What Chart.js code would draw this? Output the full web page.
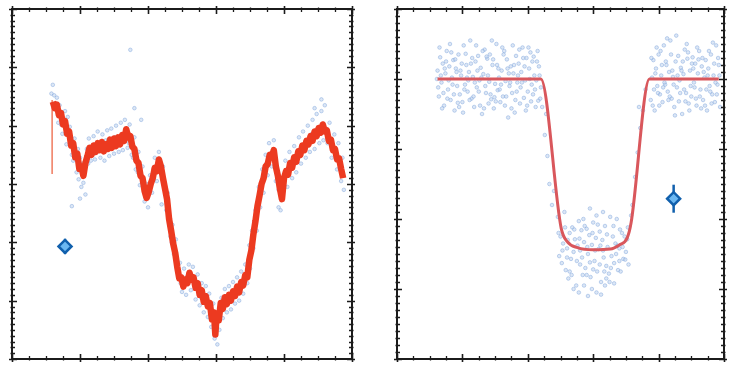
<!DOCTYPE html>
<html>
<head>
<meta charset="utf-8">
<script src="https://cdn.jsdelivr.net/npm/chart.js@4.4.1/dist/chart.umd.min.js"></script>
<style>
  body { margin: 0; background: #fff; width: 733px; height: 368px; position: relative; overflow: hidden; }
  canvas { position: absolute; top: 0; }
  #left { left: 0; }
  #right { left: 380px; }
</style>
</head>
<body>
<canvas id="left" width="368" height="368"></canvas>
<canvas id="right" width="353" height="368"></canvas>
<script>
// ---- left panel: noisy light curve ----
const leftXTicks = [0, 1, 2, 3, 4, 5];
const leftYTicks = [0, 1, 2, 3, 4, 5, 6];

const leftSpike = [[0.59, 3.17], [0.59, 4.44]];

const leftCurve = [
  [0.60,4.41],[0.63,4.30],[0.66,4.36],[0.69,4.18],[0.72,4.22],[0.75,4.02],[0.78,4.08],[0.81,3.86],
  [0.84,3.90],[0.87,3.66],[0.90,3.70],[0.93,3.46],[0.96,3.52],[0.99,3.26],[1.02,3.30],[1.05,3.14],
  [1.08,3.36],[1.11,3.48],[1.14,3.62],[1.17,3.50],[1.20,3.66],[1.23,3.55],[1.26,3.70],[1.29,3.58],
  [1.32,3.72],[1.35,3.56],[1.38,3.68],[1.41,3.60],[1.44,3.76],[1.47,3.62],[1.50,3.78],[1.53,3.65],
  [1.56,3.80],[1.59,3.68],[1.62,3.84],[1.65,3.74],[1.68,3.94],[1.71,3.80],[1.74,3.82],[1.77,3.64],
  [1.80,3.60],[1.83,3.40],[1.86,3.36],[1.89,3.14],[1.92,3.10],[1.95,2.88],[1.98,2.76],[2.01,2.86],
  [2.04,3.00],[2.07,3.10],[2.10,3.28],[2.13,3.22],[2.16,3.42],[2.19,3.30],[2.22,3.10],[2.25,2.92],
  [2.28,2.74],[2.31,2.40],[2.34,2.20],[2.37,1.98],[2.40,1.82],[2.43,1.58],[2.46,1.38],[2.49,1.40],
  [2.52,1.24],[2.55,1.36],[2.58,1.30],[2.61,1.48],[2.64,1.36],[2.67,1.40],[2.70,1.22],[2.73,1.30],
  [2.76,1.10],[2.79,1.18],[2.82,0.98],[2.85,1.08],[2.88,0.90],[2.91,0.96],[2.94,0.68],[2.97,0.80],
  [2.99,0.42],[3.01,0.78],[3.04,0.66],[3.07,0.96],[3.10,0.86],[3.13,1.06],[3.16,0.94],[3.19,1.10],
  [3.22,1.00],[3.25,1.16],[3.28,1.08],[3.31,1.24],[3.34,1.14],[3.37,1.32],[3.40,1.26],[3.43,1.44],
  [3.46,1.40],[3.49,1.70],[3.52,1.86],[3.55,2.14],[3.58,2.36],[3.61,2.62],[3.64,2.80],[3.67,3.00],
  [3.70,3.10],[3.73,3.30],[3.76,3.34],[3.79,3.50],[3.82,3.46],[3.85,3.58],[3.88,3.30],[3.91,3.14],
  [3.94,2.92],[3.97,2.74],[4.00,3.10],[4.03,3.22],[4.06,3.16],[4.09,3.36],[4.12,3.28],[4.15,3.46],
  [4.18,3.38],[4.21,3.56],[4.24,3.50],[4.27,3.66],[4.30,3.58],[4.33,3.74],[4.36,3.68],[4.39,3.82],
  [4.42,3.74],[4.45,3.90],[4.48,3.82],[4.51,3.96],[4.54,3.88],[4.57,4.02],[4.60,3.90],[4.63,3.92],
  [4.66,3.74],[4.69,3.76],[4.72,3.58],[4.75,3.60],[4.78,3.42],[4.81,3.44],[4.84,3.26],[4.87,3.10]
];

const leftDots = [
  [0.58,4.55],[0.60,4.70],[0.62,4.52],[0.64,4.38],[0.70,4.35],[0.68,4.05],[0.74,3.86],[0.78,4.25],
  [0.80,3.68],[0.85,3.98],[0.88,3.50],[0.92,3.78],[0.95,3.20],[0.98,3.08],[1.00,3.45],[1.02,2.95],
  [1.05,3.02],[1.08,2.82],[1.10,3.60],[1.13,3.78],[1.16,3.40],[1.20,3.82],[1.22,3.42],[1.26,3.90],
  [1.30,3.45],[1.33,3.85],[1.36,3.40],[1.40,3.92],[1.43,3.48],[1.46,3.95],[1.50,3.52],[1.53,4.00],
  [1.57,3.55],[1.60,4.05],[1.63,3.58],[1.66,4.10],[1.70,3.62],[1.73,4.02],[1.76,3.50],[1.80,3.80],
  [1.82,3.25],[1.86,3.55],[1.88,2.98],[1.92,3.30],[1.95,2.70],[1.98,3.00],[2.00,2.60],[2.03,3.15],
  [2.06,2.85],[2.10,3.45],[2.13,3.05],[2.16,3.55],[2.20,3.20],[2.24,2.95],[2.27,2.55],[2.30,2.62],
  [2.33,2.10],[2.36,2.30],[2.38,1.80],[2.41,2.05],[2.44,1.50],[2.47,1.65],[2.50,1.15],[2.53,1.55],
  [2.56,1.10],[2.60,1.62],[2.63,1.18],[2.66,1.58],[2.70,1.02],[2.73,1.45],[2.76,0.92],[2.79,1.30],
  [2.82,0.80],[2.85,1.25],[2.88,0.72],[2.90,1.12],[2.93,0.55],[2.96,0.95],[2.98,0.35],[3.00,0.62],
  [3.02,0.25],[3.05,0.50],[3.08,1.05],[3.10,0.70],[3.13,1.20],[3.16,0.80],[3.19,1.25],[3.22,0.85],
  [3.25,1.32],[3.28,0.95],[3.31,1.40],[3.34,1.00],[3.37,1.50],[3.40,1.12],[3.43,1.62],[3.46,1.30],
  [3.49,1.95],[3.50,1.55],[3.53,2.20],[3.55,1.90],[3.58,2.55],[3.60,2.20],[3.63,2.95],[3.65,2.60],
  [3.68,3.25],[3.70,2.85],[3.73,3.50],[3.76,3.15],[3.78,3.70],[3.82,3.30],[3.85,3.75],[3.88,3.05],
  [3.92,2.90],[3.95,2.55],[3.98,2.95],[4.02,3.40],[4.05,2.95],[4.08,3.55],[4.12,3.10],[4.15,3.65],
  [4.18,3.20],[4.22,3.80],[4.25,3.35],[4.28,3.90],[4.32,3.45],[4.35,4.00],[4.38,3.55],[4.42,4.10],
  [4.45,3.60],[4.48,4.20],[4.52,3.70],[4.55,4.25],[4.58,3.75],[4.60,4.35],[4.64,3.70],[4.67,4.05],
  [4.70,3.45],[4.74,3.85],[4.78,3.25],[4.80,3.70],[4.84,3.05],[4.86,3.45],[4.88,2.90],[4.55,4.45],
  [4.45,4.30],[3.92,2.60],[2.20,2.65],[1.00,2.75],[0.88,2.62],[1.80,4.30],[1.90,4.10],[1.74,5.30],
  [0.66,4.48],[0.72,4.02],[0.82,4.15],[0.90,3.40],[0.97,3.60],[1.04,3.35],[1.12,3.35],[1.18,3.60],
  [1.25,3.55],[1.32,3.70],[1.38,3.75],[1.45,3.65],[1.52,3.80],[1.58,3.70],[1.65,3.85],[1.72,3.70],
  [1.78,3.45],[1.85,3.20],[1.94,3.05],[2.02,2.90],[2.08,3.25],[2.15,3.35],[2.22,3.30],[2.29,2.85],
  [2.35,2.00],[2.42,1.65],[2.48,1.30],[2.58,1.42],[2.68,1.28],[2.78,1.05],[2.87,1.00],[2.95,0.75],
  [3.06,0.82],[3.15,1.05],[3.24,1.05],[3.33,1.25],[3.42,1.40],[3.56,2.35],[3.66,2.95],[3.74,3.35],
  [3.83,3.55],[3.90,3.20],[4.00,3.00],[4.10,3.30],[4.20,3.45],[4.30,3.65],[4.40,3.85],[4.50,3.95],
  [4.62,3.95],[4.72,3.60],[4.82,3.40]
];

const leftMarker = [[0.78, 1.93]];
const leftMarkerErr = [[0.78, 1.80], [0.78, 2.06]];

// ---- right panel: transit-shaped dip ----
const rightXTicks = [0, 1, 2, 3, 4, 5];
const rightYTicks = [0, 1, 2, 3, 4, 5];

const rightModel = [
  [0.62,4.00],[2.20,4.00],[2.51,1.87],[2.60,1.68],[2.76,1.59],[3.00,1.56],[3.26,1.57],
  [3.40,1.63],[3.52,1.73],[3.58,1.95],[3.86,4.00],[4.92,4.00]
];

const rightDots = [
  // before ingress
  [0.62,4.12],[0.64,3.75],[0.66,4.31],[0.68,3.95],[0.70,4.22],[0.72,3.62],[0.74,4.08],[0.76,4.40],
  [0.78,3.85],[0.80,4.18],[0.82,3.70],[0.84,4.02],[0.86,4.27],[0.88,3.55],[0.90,4.15],[0.92,3.90],
  [0.94,4.35],[0.96,3.78],[0.98,4.05],[1.00,3.67],[1.02,4.48],[1.04,3.92],[1.06,4.20],[1.08,3.82],
  [1.10,4.10],[1.12,4.55],[1.14,3.72],[1.16,4.03],[1.18,3.60],[1.20,4.25],[1.22,3.88],[1.24,4.33],
  [1.26,3.98],[1.28,4.16],[1.30,3.50],[1.32,4.07],[1.34,4.42],[1.36,3.80],[1.38,4.29],[1.40,3.65],
  [1.42,4.35],[1.44,3.71],[1.46,4.20],[1.48,3.58],[1.50,3.93],[1.52,4.50],[1.54,3.84],[1.56,4.02],
  [1.58,3.67],[1.60,4.12],[1.62,3.75],[1.64,4.40],[1.66,3.97],[1.68,4.28],[1.70,3.45],[1.72,3.90],
  [1.74,4.18],[1.76,3.80],[1.78,4.08],[1.80,3.52],[1.82,4.33],[1.84,3.95],[1.86,4.22],[1.88,3.65],
  [1.90,4.10],[1.92,4.45],[1.94,3.73],[1.96,3.98],[1.98,4.30],[2.00,3.82],[2.02,4.15],[2.04,4.38],
  [2.06,3.92],[2.08,3.78],[2.10,4.05],[2.12,3.60],[2.14,4.25],[2.16,3.69],[2.18,4.05],[2.20,3.88],
  [0.63,3.88],[0.67,4.05],[0.71,3.80],[0.75,4.25],[0.79,3.98],[0.83,4.38],[0.87,3.78],[0.91,4.10],
  [0.95,3.60],[0.99,4.22],[1.03,3.85],[1.07,4.02],[1.11,3.70],[1.15,4.30],[1.19,3.95],[1.23,4.12],
  [1.27,3.62],[1.31,4.40],[1.35,3.90],[1.39,4.05],[1.43,3.78],[1.47,4.28],[1.51,3.68],[1.55,4.15],
  [1.59,3.92],[1.63,4.35],[1.67,3.75],[1.71,4.08],[1.75,3.58],[1.79,4.20],[1.83,3.82],[1.87,4.42],
  [1.91,3.95],[1.95,4.18],[1.99,3.62],[2.03,4.00],[2.07,4.25],[2.11,3.85],[2.15,4.40],[2.19,3.72],
  [0.65,4.45],[0.69,3.58],[0.73,4.15],[0.77,3.72],[0.81,4.50],[0.85,3.92],[0.89,4.28],[0.93,3.66],
  [0.97,4.12],[1.01,3.52],[1.05,4.36],[1.09,3.98],[1.13,4.22],[1.17,3.75],[1.21,4.48],[1.25,3.82],
  [1.29,4.02],[1.33,3.58],[1.37,4.32],[1.41,3.96],[1.45,4.55],[1.49,3.74],[1.53,4.20],[1.57,3.85],
  [1.61,4.45],[1.65,3.62],[1.69,4.15],[1.73,3.95],[1.77,4.48],[1.81,3.70],[1.85,4.05],[1.89,3.88],
  [1.93,4.30],[1.97,3.55],[2.01,4.45],[2.05,3.68],[2.09,4.32],[2.13,3.98],[2.17,4.18],[0.61,4.00],
  // ingress / egress walls
  [2.22,3.60],[2.26,3.20],[2.30,2.90],[2.33,2.50],[2.37,2.20],[2.40,2.40],[2.28,3.50],
  [3.60,2.20],[3.64,2.60],[3.68,2.95],[3.72,3.30],[3.76,3.55],[3.80,3.85],[3.70,3.60],[3.58,2.05],
  // in transit
  [2.46,2.03],[2.48,1.47],[2.50,1.75],[2.52,1.37],[2.54,1.65],[2.56,2.10],[2.58,1.27],[2.60,1.58],
  [2.62,1.15],[2.64,1.80],[2.66,1.43],[2.68,1.88],[2.70,1.53],[2.72,1.71],[2.74,1.05],[2.76,1.62],
  [2.78,1.97],[2.80,1.35],[2.82,1.84],[2.84,1.20],[2.86,1.67],[2.88,1.30],[2.90,1.86],[2.92,1.50],
  [2.94,1.77],[2.96,1.17],[2.98,1.63],[3.00,1.95],[3.02,1.40],[3.04,1.73],[3.06,1.25],[3.08,1.57],
  [3.10,1.82],[3.12,1.10],[3.14,1.70],[3.16,1.45],[3.18,1.90],[3.20,1.33],[3.22,1.60],[3.24,1.22],
  [3.26,2.03],[3.28,1.47],[3.30,1.75],[3.32,1.37],[3.34,1.65],[3.36,2.00],[3.38,1.27],[3.40,1.58],
  [3.42,1.25],[3.44,1.80],[3.46,1.43],[3.48,1.75],[3.50,1.53],[3.52,1.71],[3.54,1.35],
  [2.70,1.00],[2.78,0.95],[2.86,1.05],[2.92,0.90],[2.98,1.00],[3.05,0.95],[3.12,0.92],[3.18,1.05],
  [3.25,1.10],[3.32,1.08],[2.64,1.25],[2.90,1.20],[3.00,1.28],[3.10,1.35],[3.20,1.15],[3.40,1.40],
  [2.60,1.45],[2.80,1.55],[3.15,1.55],[3.35,1.50],[2.95,2.15],[3.05,2.05],[2.85,2.00],[3.15,2.10],
  [2.47,1.80],[2.53,1.55],[2.57,1.88],[2.61,1.70],[2.67,1.20],[2.71,1.85],[2.75,1.40],[2.79,1.72],
  [2.83,1.45],[2.87,1.90],[2.91,1.60],[2.95,1.38],[2.99,1.80],[3.03,1.55],[3.07,1.92],[3.11,1.62],
  [3.17,1.25],[3.21,1.78],[3.27,1.30],[3.31,1.90],[3.37,1.62],[3.41,1.85],[3.45,1.60],[3.49,1.42],
  [3.53,1.88],
  // after egress
  [3.88,3.70],[3.90,4.02],[3.92,4.27],[3.94,3.55],[3.96,4.15],[3.98,3.90],[4.00,4.35],[4.02,3.78],
  [4.04,4.05],[4.06,3.67],[4.08,4.48],[4.10,3.92],[4.12,4.20],[4.14,3.82],[4.16,4.10],[4.18,4.55],
  [4.20,3.72],[4.22,4.03],[4.24,3.60],[4.26,4.25],[4.28,3.88],[4.30,4.33],[4.32,3.98],[4.34,4.16],
  [4.36,3.50],[4.38,4.07],[4.40,4.42],[4.42,3.80],[4.44,4.29],[4.46,3.65],[4.48,4.12],[4.50,3.75],
  [4.52,4.31],[4.54,3.95],[4.56,4.22],[4.58,3.62],[4.60,4.08],[4.62,4.40],[4.64,3.85],[4.66,4.18],
  [4.68,3.70],[4.70,4.02],[4.72,4.27],[4.74,3.55],[4.76,4.15],[4.78,3.90],[4.80,4.35],[4.82,3.78],
  [4.84,4.05],[4.86,3.67],[4.88,4.48],[4.90,3.92],[4.92,4.20],
  [3.89,4.30],[3.93,3.85],[3.97,4.45],[4.01,3.62],[4.05,4.20],[4.09,3.95],[4.13,4.58],[4.17,3.75],
  [4.21,4.12],[4.25,3.48],[4.29,4.05],[4.33,3.80],[4.37,4.25],[4.41,3.68],[4.45,4.38],[4.49,3.90],
  [4.53,4.15],[4.57,3.72],[4.61,4.28],[4.65,3.58],[4.69,4.10],[4.73,3.85],[4.77,4.40],[4.81,3.65],
  [4.85,4.22],[4.89,3.78],[4.93,4.05],
  [3.91,3.62],[3.95,4.08],[3.99,3.80],[4.03,4.40],[4.07,3.88],[4.11,4.25],[4.15,3.70],[4.19,4.35],
  [4.23,3.92],[4.27,4.62],[4.31,3.68],[4.35,4.12],[4.39,3.85],[4.43,4.50],[4.47,3.55],[4.51,4.22],
  [4.55,3.88],[4.59,4.45],[4.63,3.75],[4.67,4.30],[4.71,3.62],[4.75,4.05],[4.79,3.82],[4.83,4.52],
  [4.87,3.95],[4.91,4.30],[4.94,3.60]
];

const rightMarker = [[4.23, 2.29]];
const rightMarkerErr = [[4.23, 2.09], [4.23, 2.49]];

const toPoints = arr => arr.map(([x, y]) => ({ x, y }));

// boxed frame with inward/outward ticks on all four sides
const frameTicks = {
  id: 'frameTicks',
  afterDraw(chart, args, opts) {
    const { ctx, chartArea: a, scales: { x, y } } = chart;
    const subdivide = (majors, n) => {
      const out = [];
      for (let i = 0; i < majors.length - 1; i++) {
        const step = (majors[i + 1] - majors[i]) / n;
        for (let k = 1; k < n; k++) out.push(majors[i] + step * k);
      }
      return out;
    };
    ctx.save();
    ctx.strokeStyle = '#1b1b1b';
    const tickX = (v, inLen, outLen) => {
      const px = Math.round(x.getPixelForValue(v)) + 0.5;
      ctx.beginPath();
      ctx.moveTo(px, a.bottom - inLen); ctx.lineTo(px, a.bottom + outLen);
      ctx.moveTo(px, a.top + inLen); ctx.lineTo(px, a.top - outLen);
      ctx.stroke();
    };
    const tickY = (v, inLen, outLen) => {
      const py = Math.round(y.getPixelForValue(v)) + 0.5;
      ctx.beginPath();
      ctx.moveTo(a.left + inLen, py); ctx.lineTo(a.left - outLen, py);
      ctx.moveTo(a.right - inLen, py); ctx.lineTo(a.right + outLen, py);
      ctx.stroke();
    };
    ctx.lineWidth = 1.3;
    subdivide(opts.xTicks, opts.xMinor).forEach(v => tickX(v, 3, 1.5));
    subdivide(opts.yTicks, opts.yMinor).forEach(v => tickY(v, 3, 1.5));
    ctx.lineWidth = 1.6;
    opts.xTicks.forEach(v => tickX(v, 5, 3));
    opts.yTicks.forEach(v => tickY(v, 5, 3));
    ctx.lineWidth = 2;
    ctx.strokeRect(a.left, a.top, a.right - a.left, a.bottom - a.top);
    ctx.restore();
  }
};

function panel(id, cfg) {
  return new Chart(document.getElementById(id), {
    type: 'scatter',
    data: { datasets: cfg.datasets },
    options: {
      responsive: false,
      animation: false,
      devicePixelRatio: 1,
      layout: { padding: cfg.padding },
      scales: {
        x: { type: 'linear', display: false, min: cfg.xTicks[0], max: cfg.xTicks[cfg.xTicks.length - 1] },
        y: { type: 'linear', display: false, min: cfg.yTicks[0], max: cfg.yTicks[cfg.yTicks.length - 1] }
      },
      plugins: {
        legend: { display: false },
        tooltip: { enabled: false },
        frameTicks: { xTicks: cfg.xTicks, yTicks: cfg.yTicks, xMinor: 4, yMinor: 10 }
      }
    },
    plugins: [frameTicks]
  });
}

const dotStyle = {
  pointRadius: 1.8,
  pointBackgroundColor: 'rgba(185,208,238,0.5)',
  pointBorderColor: 'rgba(130,168,220,0.7)',
  pointBorderWidth: 0.7,
  showLine: false
};

const markerStyle = {
  pointStyle: 'rectRot',
  pointRadius: 6.5,
  pointBackgroundColor: '#6cb8f2',
  pointBorderColor: '#1160ad',
  pointBorderWidth: 2.5,
  showLine: false
};

const errStyle = { showLine: true, borderColor: '#1160ad', borderWidth: 2.5, pointRadius: 0 };

panel('left', {
  padding: { left: 12, right: 16, top: 8, bottom: 6 },
  xTicks: leftXTicks,
  yTicks: leftYTicks,
  datasets: [
    { data: toPoints(leftMarker), ...markerStyle, order: 0 },
    { data: toPoints(leftMarkerErr), ...errStyle, order: 1 },
    { data: toPoints(leftCurve), showLine: true, borderColor: '#ec3a20', borderWidth: 6.5,
      borderJoinStyle: 'round', pointRadius: 0, order: 2 },
    { data: toPoints(leftSpike), showLine: true, borderColor: '#ef7a5e', borderWidth: 1.5, pointRadius: 0, order: 3 },
    { data: toPoints(leftDots), ...dotStyle, order: 4 }
  ]
});

panel('right', {
  padding: { left: 17, right: 5, top: 9, bottom: 6 },
  xTicks: rightXTicks,
  yTicks: rightYTicks,
  datasets: [
    { data: toPoints(rightMarker), ...markerStyle, order: 0 },
    { data: toPoints(rightMarkerErr), ...errStyle, order: 1 },
    { data: toPoints(rightModel), showLine: true, borderColor: '#d9575c', borderWidth: 3,
      cubicInterpolationMode: 'monotone', pointRadius: 0, order: 2 },
    { data: toPoints(rightDots), ...dotStyle, order: 4 }
  ]
});
</script>
</body>
</html>
